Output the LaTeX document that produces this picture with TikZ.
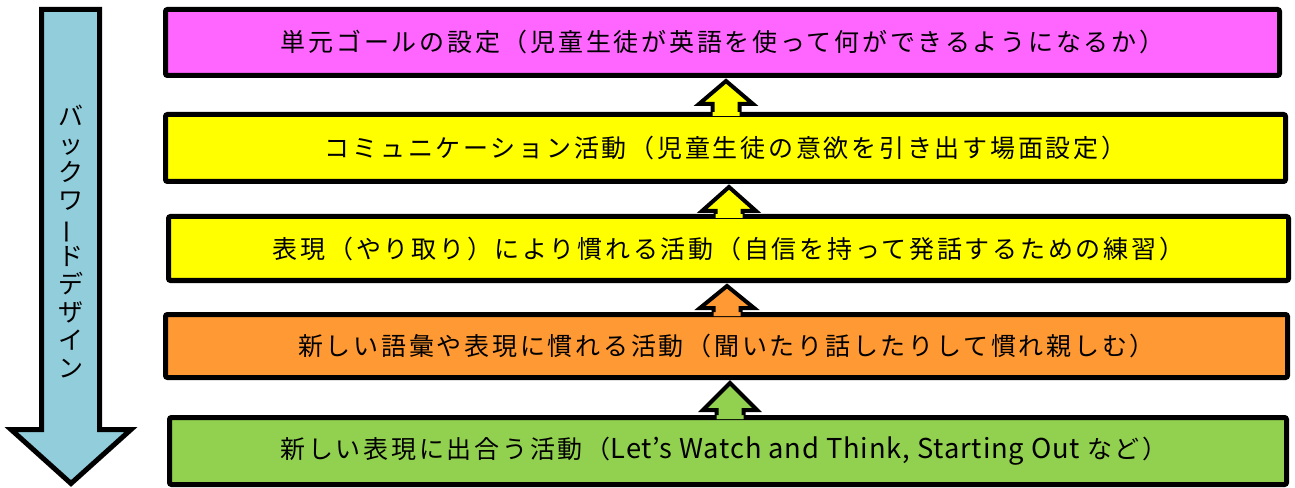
\documentclass[tikz,border=0pt]{standalone}
\usepackage{fontspec}
\usepackage{graphicx}
\usetikzlibrary{calc}
\setmainfont{Noto Sans CJK JP}
\newfontfamily\jp{Noto Sans CJK JP}[LetterSpace=11]
\newfontfamily\lat{Noto Sans CJK JP}
\newfontfamily\latw{Noto Sans CJK JP}[LetterSpace=3]
\definecolor{cmag}{RGB}{255,102,255}
\definecolor{cyel}{RGB}{255,255,0}
\definecolor{cora}{RGB}{255,153,51}
\definecolor{cgrn}{RGB}{146,208,80}
\definecolor{cblu}{RGB}{146,205,220}
\tikzset{
  box/.style={draw=black, line width=3.75pt, rounded corners=1.5pt, inner sep=0pt,
    font=\jp\fontsize{18.75pt}{22pt}\selectfont, text=black},
  arrline/.style={draw=black, line width=3pt, line join=miter, line cap=butt},
  bigarrow/.style={draw=black, line width=3.75pt, line join=miter, fill=cblu},
}
% #1 lower node, #2 upper node, #3 x centre (px), #4 fill colour, #5 head height (px)
\newcommand\uparr[5]{%
  \coordinate (#1-base) at (#3,0 |- #1.north);
  \coordinate (#1-tip) at ($(#3,0 |- #2.south)+(0,3)$);
  \fill[#4] (#1-tip) -- ($(#1-tip)+(27,#5)$) -- ($(#1-tip)+(13.5,#5)$)
    -- ($(#1-base)+(13.5,4)$) -- ($(#1-base)+(-13.5,4)$)
    -- ($(#1-tip)+(-13.5,#5)$) -- ($(#1-tip)+(-27,#5)$) -- cycle;
  \draw[arrline] ($(#1-base)+(-13.5,0)$) -- ($(#1-tip)+(-13.5,#5)$)
    -- ($(#1-tip)+(-27,#5)$) -- (#1-tip) -- ($(#1-tip)+(27,#5)$)
    -- ($(#1-tip)+(13.5,#5)$) -- ($(#1-base)+(13.5,0)$);
}
\begin{document}
\begin{tikzpicture}[x=0.75pt,y=-0.75pt]
\useasboundingbox (0,0) rectangle (1295,488);
% backward design arrow
\path[bigarrow] (41.5,9.5) -- (99.5,9.5) -- (99.5,429.5) -- (131,429.5)
  -- (71,483.5) -- (11,429.5) -- (41.5,429.5) -- cycle;
\node[font=\lat\fontsize{18.75pt}{21pt}\selectfont, align=center, inner sep=0pt]
  (bwd) at (71,241) {バ\\ッ\\ク\\ワ\\\rotatebox[origin=c]{90}{ー}\\ド\\デ\\ザ\\イ\\ン};
% boxes
\node[box, fill=cmag, minimum width=835.5pt, minimum height=49.5pt] (b1) at (722.5,42.5)
  {単元ゴールの設定（児童生徒が英語を使って何ができるようになるか）};
\node[box, fill=cyel, minimum width=840pt, minimum height=50.25pt] (b2) at (725.5,148)
  {コミュニケーション活動（児童生徒の意欲を引き出す場面設定）};
\node[box, fill=cyel, minimum width=840pt, minimum height=48pt] (b3) at (728.5,248.5)
  {表現（やり取り）により慣れる活動（自信を持って発話するための練習）};
\node[box, fill=cora, minimum width=841.5pt, minimum height=47.25pt] (b4) at (726.5,346)
  {新しい語彙や表現に慣れる活動（聞いたり話したりして慣れ親しむ）};
\node[box, fill=cgrn, minimum width=837.75pt, minimum height=50.25pt] (b5) at (728,451)
  {新しい表現に出合う活動（{\latw\fontsize{20.5pt}{22pt}\selectfont Let’s Watch and Think, Starting Out }など）\hspace*{6pt}};
% up arrows
\uparr{b2}{b1}{726}{cyel}{23}
\uparr{b3}{b2}{729}{cyel}{24}
\uparr{b4}{b3}{727}{cora}{22}
\uparr{b5}{b4}{730}{cgrn}{27}
\end{tikzpicture}
\end{document}
